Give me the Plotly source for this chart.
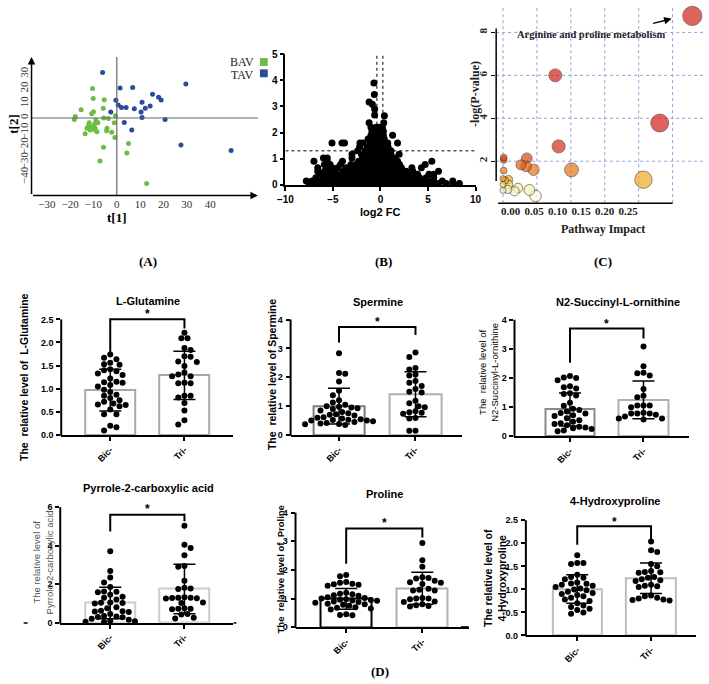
import numpy as np
import plotly.graph_objects as go

W, H = 709, 684
SANS = "Liberation Sans, Arial, sans-serif"
SERIF = "Liberation Serif, Times New Roman, serif"
NB = "\u00a0"

# ---------------- Panel A: PCA scores ----------------
bav_t1 = [-10.4,-10.1,-5.4,-15.3,-5.8,-10.0,-10.8,-17.8,-18.2,-0.6,-5.6,-3.6,-9.0,-11.8,-12.1,-9.7,-8.1,-1.1,-12.8,-10.7,
          -9.4,-4.2,-11.4,-9.3,-8.5,-4.4,-2.2,-13.6,-0.8,5.0,-5.7,4.3,-7.2,12.8]
bav_t2 = [20.0,13.3,12.4,5.6,6.7,4.2,2.9,1.1,-1.1,1.6,0.0,-0.4,-1.6,-3.3,-4.9,-4.4,-3.3,-3.3,-6.9,-6.4,
          -6.7,-6.9,-8.2,-8.2,-9.3,-8.7,-9.6,-10.7,-13.3,-17.3,-19.8,-23.8,-29.1,-44.4]
tav_t1 = [-6.1,1.4,6.8,29.6,15.3,17.9,19.0,-0.4,10.8,0.6,2.0,4.0,7.5,12.2,14.3,-2.6,10.4,10.8,20.7,3.2,6.4,27.5,49.0]
tav_t2 = [30.9,20.4,20.7,23.1,16.2,14.0,12.2,12.0,10.7,8.9,7.1,7.1,6.2,6.7,8.2,4.0,4.0,0.4,-1.1,-3.1,-8.2,-18.4,-22.0]
pca_xticks = [-30,-20,-10,0,10,20,30,40]
pca_yticks = [-40,-30,-20,-10,0,10,20,30]
group_names = ["BAV", "TAV"]

# ---------------- Panel B: volcano ----------------
vol_y_levels = [0.05,0.15,0.27,0.40,0.52,0.65,0.78,0.90,1.03,1.17,1.30,1.45,1.60,1.75,1.90,2.05,2.20,2.37]
vol_x_rows = [
    [-7.5,-7.0,-6.6,-6.2,-5.8,-5.4,-5.0,-4.6,-4.2,-3.8,-3.4,-3.0,-2.6,-2.2,-1.8,-1.4,-1.0,-0.6,-0.2,0.2,0.6,1.0,1.4,1.8,2.2,2.6,3.0,3.4,3.8,4.2,4.6,5.0,5.5,6.1,6.9,7.6,8.3],
    [-7.8,-7.2,-6.4,-5.9,-5.3,-4.8,-4.4,-3.9,-3.5,-3.1,-2.7,-2.3,-1.9,-1.5,-1.1,-0.7,-0.3,0.1,0.5,0.9,1.3,1.7,2.1,2.5,2.9,3.3,3.7,4.1,4.5,5.0,5.6,6.5,7.6],
    [-6.8,-6.0,-5.5,-5.0,-4.5,-4.0,-3.6,-3.2,-2.8,-2.4,-2.0,-1.6,-1.2,-0.8,-0.4,0.0,0.4,0.8,1.2,1.6,2.0,2.4,2.8,3.2,3.6,4.1,4.8,5.6],
    [-6.3,-5.7,-5.2,-4.6,-4.1,-3.7,-3.3,-2.9,-2.5,-2.1,-1.7,-1.3,-0.9,-0.5,-0.1,0.3,0.7,1.1,1.5,1.9,2.3,2.7,3.1,3.9,5.1,5.6],
    [-6.6,-5.9,-5.4,-4.9,-3.9,-3.4,-3.0,-2.6,-2.2,-1.8,-1.4,-1.0,-0.6,-0.2,0.2,0.6,1.0,1.4,1.8,2.2,2.7,3.4,6.1],
    [-6.6,-5.6,-5.1,-4.5,-3.6,-2.9,-2.4,-2.0,-1.6,-1.2,-0.8,-0.4,0.0,0.4,0.8,1.2,1.7,2.2,3.3,4.3],
    [-5.9,-5.3,-4.2,-3.1,-2.6,-1.9,-1.4,-1.0,-0.6,-0.2,0.2,0.6,1.0,1.5,2.0,4.7],
    [-7.0,-5.6,-4.0,-2.3,-1.7,-1.2,-0.8,-0.4,0.0,0.4,0.8,1.3,1.8,5.4],
    [-6.0,-5.6,-3.0,-1.9,-1.5,-1.0,-0.6,-0.2,0.2,0.6,1.0,1.5],
    [-3.0,-2.0,-1.3,-0.9,-0.5,-0.1,0.3,0.7,1.1,1.96],
    [-2.4,-1.6,-1.1,-0.7,-0.3,0.1,0.5,1.1],
    [-2.2,-1.4,-0.9,-0.5,-0.1,0.3,0.8],
    [-5.1,-4.05,-3.78,-2.16,-1.82,-1.1,-0.6,-0.2,0.2,0.76,1.79],
    [-1.3,-0.8,-0.4,0.0,0.4],
    [-1.0,-0.5,-0.1,0.3,1.27],
    [-0.9,-0.5,-0.1,0.3],
    [-1.0,-0.45,-0.2,0.2],
    [-1.2,0.34],
]
vol_top_x = [-0.62,0.41,-0.62,-1.2,-0.86,-0.65,-0.69]
vol_top_y = [2.67,2.64,2.90,3.17,3.08,3.46,3.90]
vol_p_cut = 1.3
vol_fc_cut = [-0.38, 0.25]

# ---------------- Panel C: pathway analysis ----------------
path_impact = [0.279,0.077,0.231,0.082,0.035,0.0265,0.034,0.045,0.101,0.207,0.001,0.001,0.001,0.0,0.003,0.008,0.0,0.008,0.0,0.007,0.017,0.022,0.039,0.048]
path_logp   = [8.77,6.0,3.78,2.69,2.14,1.83,1.76,1.60,1.60,1.14,2.17,2.06,1.56,1.19,1.10,1.14,0.92,0.92,0.64,0.69,0.60,0.75,0.66,0.38]
impact_grid = [0.0,0.05,0.10,0.15,0.20,0.25]
impact_tick_labels = ["0.00","0.05","0.10","0.15","0.20","0.25"]
logp_ticks = [2,4,6,8]

# ---------------- Panel D: bar/scatter plots ----------------
bar_titles = ["L-Glutamine","Spermine","N2-Succinyl-L-ornithine","Pyrrole-2-carboxylic acid","Proline","4-Hydroxyproline"]
bar_ytitles = ["The" + NB + " relative level of" + NB + " L-Glutamine", "The" + NB + " relative level of Spermine",
               "The" + NB + " relative level of<br>N2-Succinyl-L-ornithine", "The relative level of<br>Pyrrole-2-carboxylic acid",
               "The" + NB + " relative level of" + NB + " Proline", "The relative level of<br>4-Hydroxyproline"]
group_labels = ["Bic-","Tri-"]
bic_mean = [0.97,1.00,0.92,1.02,0.99,1.01]
tri_mean = [1.29,1.41,1.25,1.75,1.36,1.24]
bic_sd = [0.45,0.62,0.57,0.82,0.36,0.31]
tri_sd = [0.52,0.78,0.65,1.28,0.56,0.33]
bracket_top = [2.50,3.74,3.70,5.61,3.45,2.37]
bracket_left_end = [1.77,3.20,2.52,4.73,2.22,1.97]
bracket_right_end = [2.30,3.46,3.36,5.27,3.13,2.09]
star_y = [2.62,3.93,3.87,5.92,3.65,2.46]
y_tick_max = [2.5,4,4,6,4,2.5]
y_tick_step = [0.5,1,1,2,1,0.5]

glu_bic = [1.74,1.67,1.64,1.56,1.53,1.52,1.42,1.40,1.38,1.33,1.30,1.22,1.15,1.14,1.13,1.08,1.05,0.98,0.93,0.87,0.85,0.80,0.75,0.72,0.68,0.66,0.65,0.62,0.55,0.45,0.45,0.20,0.17,0.10]
glu_tri = [2.21,2.09,2.09,1.88,1.84,1.70,1.69,1.59,1.58,1.49,1.35,1.31,1.27,1.27,1.13,1.12,1.12,0.85,0.85,0.81,0.69,0.53,0.32,0.23]
spm_bic = [2.83,2.15,2.12,1.85,1.53,1.38,1.20,1.13,1.05,1.00,0.98,0.95,0.93,0.90,0.85,0.80,0.75,0.72,0.70,0.68,0.62,0.60,0.57,0.55,0.53,0.52,0.50,0.50,0.48,0.45,0.42,0.40,0.38,0.37,0.35]
spm_tri = [2.86,2.70,2.32,2.27,2.10,2.06,1.87,1.81,1.70,1.59,1.50,1.47,1.19,1.10,1.00,0.96,0.82,0.79,0.77,0.74,0.59,0.57,0.15,0.15]
n2s_bic = [2.07,2.02,2.00,1.92,1.72,1.68,1.64,1.48,1.45,1.40,1.15,1.05,0.95,0.90,0.85,0.80,0.78,0.72,0.70,0.62,0.55,0.50,0.45,0.42,0.38,0.33,0.30,0.28,0.25,0.20,0.17]
n2s_tri = [3.08,2.40,2.18,2.16,2.09,1.62,1.39,1.34,1.06,1.06,1.06,1.00,0.81,0.78,0.78,0.78,0.74,0.68,0.61,0.61,0.58]
pyr_bic = [3.71,2.69,2.35,2.09,1.85,1.62,1.60,1.58,1.45,1.35,1.30,1.20,1.05,1.03,1.02,1.00,0.80,0.75,0.62,0.60,0.58,0.55,0.45,0.35,0.32,0.30,0.28,0.20,0.15,0.10,0.08,0.05,0.03]
pyr_tri = [5.03,4.05,3.88,3.50,2.94,2.91,2.18,1.82,1.78,1.75,1.32,1.30,1.30,1.28,1.27,1.25,1.05,1.02,0.75,0.73,0.72,0.70,0.45,0.42,0.25,0.22]
pro_bic = [1.82,1.78,1.58,1.55,1.52,1.50,1.48,1.45,1.20,1.17,1.15,1.12,1.10,1.05,1.02,1.00,0.98,0.96,0.95,0.93,0.92,0.90,0.88,0.85,0.82,0.80,0.78,0.75,0.70,0.68,0.65,0.62,0.45,0.43,0.42]
pro_tri = [2.94,2.34,2.11,1.74,1.72,1.70,1.62,1.57,1.55,1.51,1.34,1.31,1.28,1.28,1.02,1.00,1.00,0.98,0.90,0.88,0.80,0.77,0.74,0.72]
hyp_bic = [1.74,1.57,1.57,1.55,1.32,1.27,1.25,1.22,1.15,1.13,1.12,1.10,1.08,1.05,1.02,1.00,0.98,0.95,0.92,0.90,0.88,0.85,0.82,0.78,0.75,0.70,0.65,0.62,0.58,0.55,0.50,0.47]
hyp_tri = [2.04,1.85,1.81,1.55,1.50,1.40,1.38,1.37,1.36,1.27,1.25,1.22,1.20,1.18,1.10,1.08,1.07,1.05,0.87,0.85,0.82,0.80,0.78,0.77,0.76]
bic_points = [glu_bic, spm_bic, n2s_bic, pyr_bic, pro_bic, hyp_bic]
tri_points = [glu_tri, spm_tri, n2s_tri, pyr_tri, pro_tri, hyp_tri]

# ---------------- layout helpers ----------------
fig = go.Figure()
layout = dict(width=W, height=H, margin=dict(l=0, r=0, t=0, b=0), autosize=False,
              paper_bgcolor="white", plot_bgcolor="white", showlegend=False,
              font=dict(family=SANS, color="black"))
shapes, annotations = [], []


def dx(a, b):
    return [a / W, b / W]


def dy(top, bottom):
    return [1 - bottom / H, 1 - top / H]


def ann(xp, yp, text, size=11, family=SANS, bold=False, color="black", angle=0):
    annotations.append(dict(x=xp / W, y=1 - yp / H, xref="paper", yref="paper", text=text, showarrow=False,
                            textangle=angle, xanchor="center", yanchor="middle",
                            font=dict(size=size, family=family, color=color, weight="bold" if bold else "normal")))


def pline(x0, y0, x1, y1, color="black", width=1.5):
    shapes.append(dict(type="line", xref="paper", yref="paper", x0=x0 / W, y0=1 - y0 / H, x1=x1 / W, y1=1 - y1 / H,
                       line=dict(color=color, width=width)))


def swarm(vals, ppu_y, ppu_x, d=6.3):
    order = sorted(range(len(vals)), key=lambda i: -vals[i])
    placed, out = [], [0.0] * len(vals)
    for n, i in enumerate(order):
        yp = vals[i] * ppu_y
        best = None
        for k in range(0, 60):
            cands = [0] if k == 0 else ([k, -k] if n % 2 == 0 else [-k, k])
            for s in cands:
                xo = s * d * 0.5
                if all((xo - a) ** 2 + (yp - b) ** 2 >= (d * 0.97) ** 2 for a, b in placed):
                    best = xo
                    break
            if best is not None:
                break
        placed.append((best, yp))
        out[i] = best / ppu_x
    return out


# ================= Panel A =================
a_x0, a_ppu_x, a_y0, a_ppu_y = 111, 2.38, 114, 1.5
xrA = [(24 - a_x0) / a_ppu_x, (255 - a_x0) / a_ppu_x]
yrA = [(a_y0 - 193) / a_ppu_y, (a_y0 - 52) / a_ppu_y]
layout["xaxis"] = dict(domain=dx(24, 255), range=xrA, anchor="y", showline=False, zeroline=False, showgrid=False,
                       tickvals=pca_xticks, ticks="", tickfont=dict(family=SERIF, size=11, color="#333"))
layout["yaxis"] = dict(domain=dy(52, 193), range=yrA, anchor="x", showline=False, zeroline=False, showgrid=False,
                       tickvals=pca_yticks, ticks="", tickangle=-90, tickfont=dict(family=SERIF, size=11, color="#333"))
fig.add_trace(go.Scatter(x=bav_t1, y=bav_t2, mode="markers", xaxis="x", yaxis="y", cliponaxis=False,
                         marker=dict(size=5, color="#6cbd45")))
fig.add_trace(go.Scatter(x=tav_t1, y=tav_t2, mode="markers", xaxis="x", yaxis="y", cliponaxis=False,
                         marker=dict(size=5, color="#2b4a9e")))
shapes.append(dict(type="line", xref="x", yref="y", x0=0, x1=0, y0=yrA[0], y1=yrA[1], line=dict(color="#666", width=1.2)))
shapes.append(dict(type="line", xref="x", yref="y", x0=xrA[0], x1=xrA[1], y0=0, y1=0, line=dict(color="#666", width=1.2)))
annotations.append(dict(xref="x", yref="y", axref="x", ayref="y", x=xrA[1], y=yrA[0], ax=xrA[0], ay=yrA[0], text="",
                        showarrow=True, arrowhead=2, arrowsize=1, arrowwidth=1.5, arrowcolor="black"))
annotations.append(dict(xref="x", yref="y", axref="x", ayref="y", x=xrA[0], y=yrA[1], ax=xrA[0], ay=yrA[0], text="",
                        showarrow=True, arrowhead=2, arrowsize=1, arrowwidth=1.5, arrowcolor="black"))
ann(111, 215, "t[1]", 13, SERIF, True)
ann(6, 120, "t[2]", 13, SERIF, True, angle=-90)
ann(239, 57, group_names[0], 12, SERIF, False, "#222")
ann(239, 70, group_names[1], 12, SERIF, False, "#222")
shapes.append(dict(type="rect", xref="paper", yref="paper", x0=257 / W, x1=265 / W, y0=1 - 61 / H, y1=1 - 53 / H,
                   fillcolor="#6cbd45", line=dict(width=0)))
shapes.append(dict(type="rect", xref="paper", yref="paper", x0=257 / W, x1=265 / W, y0=1 - 72.5 / H, y1=1 - 64.5 / H,
                   fillcolor="#2b4a9e", line=dict(width=0)))

# ================= Panel B =================
axis_common = dict(showline=True, linecolor="black", linewidth=1.5, ticks="outside", ticklen=4, tickwidth=1.5,
                   tickcolor="black", showgrid=False, zeroline=False)
layout["xaxis2"] = dict(domain=dx(283, 477), range=[-10, 10], anchor="y2", tickvals=[-10, -5, 0, 5, 10],
                        tickfont=dict(family=SANS, size=10, weight="bold", color="black"), **axis_common)
layout["yaxis2"] = dict(domain=dy(49, 182), range=[0, 5], anchor="x2", tickvals=[0, 1, 2, 3, 4, 5],
                        tickfont=dict(family=SANS, size=10, weight="bold", color="black"), **axis_common)
vx = [x for row in vol_x_rows for x in row] + vol_top_x
vy = [yl for yl, row in zip(vol_y_levels, vol_x_rows) for _ in row] + vol_top_y
fig.add_trace(go.Scatter(x=vx, y=vy, mode="markers", xaxis="x2", yaxis="y2", cliponaxis=False,
                         marker=dict(size=7, color="black")))
shapes.append(dict(type="line", xref="x2", yref="y2", x0=-10, x1=10, y0=vol_p_cut, y1=vol_p_cut,
                   line=dict(color="black", width=1, dash="dot")))
for c in vol_fc_cut:
    shapes.append(dict(type="line", xref="x2", yref="y2", x0=c, x1=c, y0=0, y1=5,
                       line=dict(color="black", width=1, dash="dot")))
ann(380, 210, "log2 FC", 11, SANS, True)

# ================= Panel C =================
c_x0, c_ppu_x, c_y0, c_ppu_y = 505, 173 / 0.25, 201.7, 21.85
xrC = [(498 - c_x0) / c_ppu_x, (709 - c_x0) / c_ppu_x]
yrC = [(c_y0 - 200.7) / c_ppu_y, c_y0 / c_ppu_y]
label_pos = [(512.7 + 24 * i - c_x0) / c_ppu_x for i in range(len(impact_tick_labels))]
layout["xaxis3"] = dict(domain=dx(498, 709), range=xrC, anchor="y3", showline=False, zeroline=False, showgrid=False,
                        tickvals=label_pos, ticktext=impact_tick_labels, ticks="",
                        tickfont=dict(family=SERIF, size=11, weight="bold", color="#222"))
layout["yaxis3"] = dict(domain=dy(0, 200.7), range=yrC, anchor="x3", showline=False, zeroline=False, showgrid=False,
                        tickvals=logp_ticks, ticks="outside", ticklen=4, tickwidth=1.2, tickcolor="black", tickangle=-90,
                        ticklabelstandoff=0,
                        tickfont=dict(family=SERIF, size=11, weight="bold", color="#222"))
for g in impact_grid:
    shapes.append(dict(type="line", xref="x3", yref="y3", x0=g, x1=g, y0=yrC[0], y1=yrC[1], layer="below",
                       line=dict(color="#8f9fd8", width=1, dash="dot")))
for t in logp_ticks:
    shapes.append(dict(type="line", xref="x3", yref="y3", x0=xrC[0], x1=xrC[1], y0=t, y1=t, layer="below",
                       line=dict(color="#8f9fd8", width=1, dash="dot")))
pline(498, 23, 498, 178, width=1.5)
pline(500, 200.7, 678, 200.7, width=1.5)
heat = [[0, "#fffff2"], [0.13, "#f7f2b8"], [0.23, "#f4df6e"], [0.31, "#f0a828"], [0.47, "#e8781e"],
        [0.56, "#e35c1a"], [0.68, "#dd4418"], [0.89, "#d82c18"], [1, "#d42018"]]
sizes = [6 + 25 * np.sqrt(v) for v in path_impact]
order = np.argsort(sizes)[::-1]
fig.add_trace(go.Scatter(x=[path_impact[i] for i in order], y=[path_logp[i] for i in order], mode="markers",
                         xaxis="x3", yaxis="y3", cliponaxis=False,
                         marker=dict(size=[sizes[i] for i in order], color=[path_logp[i] for i in order],
                                     colorscale=heat, cmin=0.3, cmax=3.0, line=dict(color="#3a2a20", width=0.8))))
ann(595, 29, "Arginine and proline metabolism", 10.5, SERIF, True, "#222")
annotations.append(dict(xref="paper", yref="paper", x=677 / W, y=1 - 13 / H, ax=-20, ay=5,
                        axref="pixel", ayref="pixel", text="", showarrow=True, arrowhead=2, arrowsize=1,
                        arrowwidth=1.5, arrowcolor="black"))
ann(477, 90, "-log(P-value)", 12, SERIF, True, "#222", angle=-90)
ann(607, 227, "Pathway Impact", 12, SERIF, True, "#222")

# panel letters
ann(143, 260, "(A)", 13, SERIF, True)
ann(383, 260, "(B)", 13, SERIF, True)
ann(607, 260, "(C)", 13, SERIF, True)
ann(380, 677, "(D)", 13, SERIF, True)

# ================= Panel D =================
bar_geom = [
    dict(ax=54.3, xend=230, bic=104.3, tri=180, y0=436.7, ppu=47.1, title=(143, 300), yt=(17, 378), ytb=True, yts=10.5, ytc="black", lc=("#a8a8a8", "#a8a8a8"), fmt=".1f"),
    dict(ax=288.3, xend=463, bic=337.7, tri=415.7, y0=436.7, ppu=29.4, title=(377, 301), yt=(270, 375), ytb=True, yts=10.5, ytc="black", lc=("#7a7a7a", "#b0b0b0"), fmt=""),
    dict(ax=516.7, xend=695, bic=573.3, tri=648.3, y0=438, ppu=29.67, title=(622, 301), yt=(490, 373), ytb=False, yts=9.5, ytc="black", lc=("#8a8a8a", "#b0b0b0"), fmt=""),
    dict(ax=53.3, xend=230, bic=104.3, tri=180, y0=627.7, ppu=19.6, title=(143, 491), yt=(35, 566), ytb=False, yts=9.5, ytc="#555", lc=("#cccccc", "#cccccc"), fmt=""),
    dict(ax=293.3, xend=470, bic=345, tri=422.7, y0=632.3, ppu=29.15, title=(384, 497), yt=(278, 574), ytb=True, yts=9.5, ytc="black", lc=("#000000", "#b0b0b0"), fmt=""),
    dict(ax=528.3, xend=701.7, bic=580.7, tri=656, y0=640.7, ppu=46.9, title=(619, 504), yt=(497, 582), ytb=True, yts=10.5, ytc="black", lc=("#bdbdbd", "#bdbdbd"), fmt=".1f"),
]

for k, g in enumerate(bar_geom):
    n = k + 4
    ppx = g["tri"] - g["bic"]
    xr = [(g["ax"] - g["bic"]) / ppx, (g["xend"] - g["bic"]) / ppx]
    ytop = star_y[k] + 0.6 * y_tick_step[k]
    top_px = g["y0"] - ytop * g["ppu"]
    ticks = list(np.round(np.arange(0, y_tick_max[k] + 1e-9, y_tick_step[k]), 2))
    layout[f"xaxis{n}"] = dict(domain=dx(g["ax"], g["xend"]), range=xr, anchor=f"y{n}", showline=True, linecolor="black",
                               linewidth=2, ticks="outside", ticklen=4, tickwidth=1.5, tickcolor="black",
                               tickvals=[0, 1], ticktext=group_labels, tickangle=-45, showgrid=False, zeroline=False,
                               tickfont=dict(family=SANS, size=9, weight="bold", color="black"))
    layout[f"yaxis{n}"] = dict(domain=dy(top_px, g["y0"]), range=[0, ytop], anchor=f"x{n}", showline=False,
                               ticks="outside", ticklen=4, tickwidth=1.5, tickcolor="black", tickvals=ticks,
                               tickformat=g["fmt"], showgrid=False, zeroline=False, ticklabelstandoff=1,
                               tickfont=dict(family=SANS, size=9, weight="bold", color="black"))
    pline(g["ax"], g["y0"] + 1, g["ax"], g["y0"] - y_tick_max[k] * g["ppu"], width=2)
    fig.add_trace(go.Bar(x=[0, 1], y=[bic_mean[k], tri_mean[k]], width=0.67, xaxis=f"x{n}", yaxis=f"y{n}",
                         marker=dict(color="white", line=dict(color=list(g["lc"]), width=2)),
                         error_y=dict(type="data", array=[bic_sd[k], tri_sd[k]], color="black", thickness=1.5, width=11)))
    for gi, vals in enumerate([bic_points[k], tri_points[k]]):
        offs = swarm(vals, g["ppu"], ppx)
        fig.add_trace(go.Scatter(x=[gi + o for o in offs], y=vals, mode="markers", xaxis=f"x{n}", yaxis=f"y{n}",
                                 cliponaxis=False, marker=dict(size=6, color="black")))
    shapes.append(dict(type="path", xref=f"x{n}", yref=f"y{n}",
                       path=f"M 0,{bracket_left_end[k]} L 0,{bracket_top[k]} L 1,{bracket_top[k]} L 1,{bracket_right_end[k]}",
                       line=dict(color="black", width=2)))
    annotations.append(dict(xref=f"x{n}", yref=f"y{n}", x=0.5, y=star_y[k], text="*", showarrow=False,
                            yanchor="middle", font=dict(family=SANS, size=12, weight="bold")))
    ann(g["title"][0], g["title"][1], bar_titles[k], 11, SANS, True)
    ann(g["yt"][0], g["yt"][1], bar_ytitles[k], g["yts"], SANS, g["ytb"], g["ytc"], angle=-90)

# stray marks
pline(16, 628, 20, 628, width=1.5)
pline(230, 628, 233, 628, width=1.5)
pline(462, 632, 470, 632, width=1.5)

layout["shapes"] = shapes
layout["annotations"] = annotations
layout["bargap"] = 0
fig.update_layout(**layout)
fig.write_html("out.html", config={"displayModeBar": False},
               post_script="document.body.style.margin='0';document.body.style.overflow='hidden';")
